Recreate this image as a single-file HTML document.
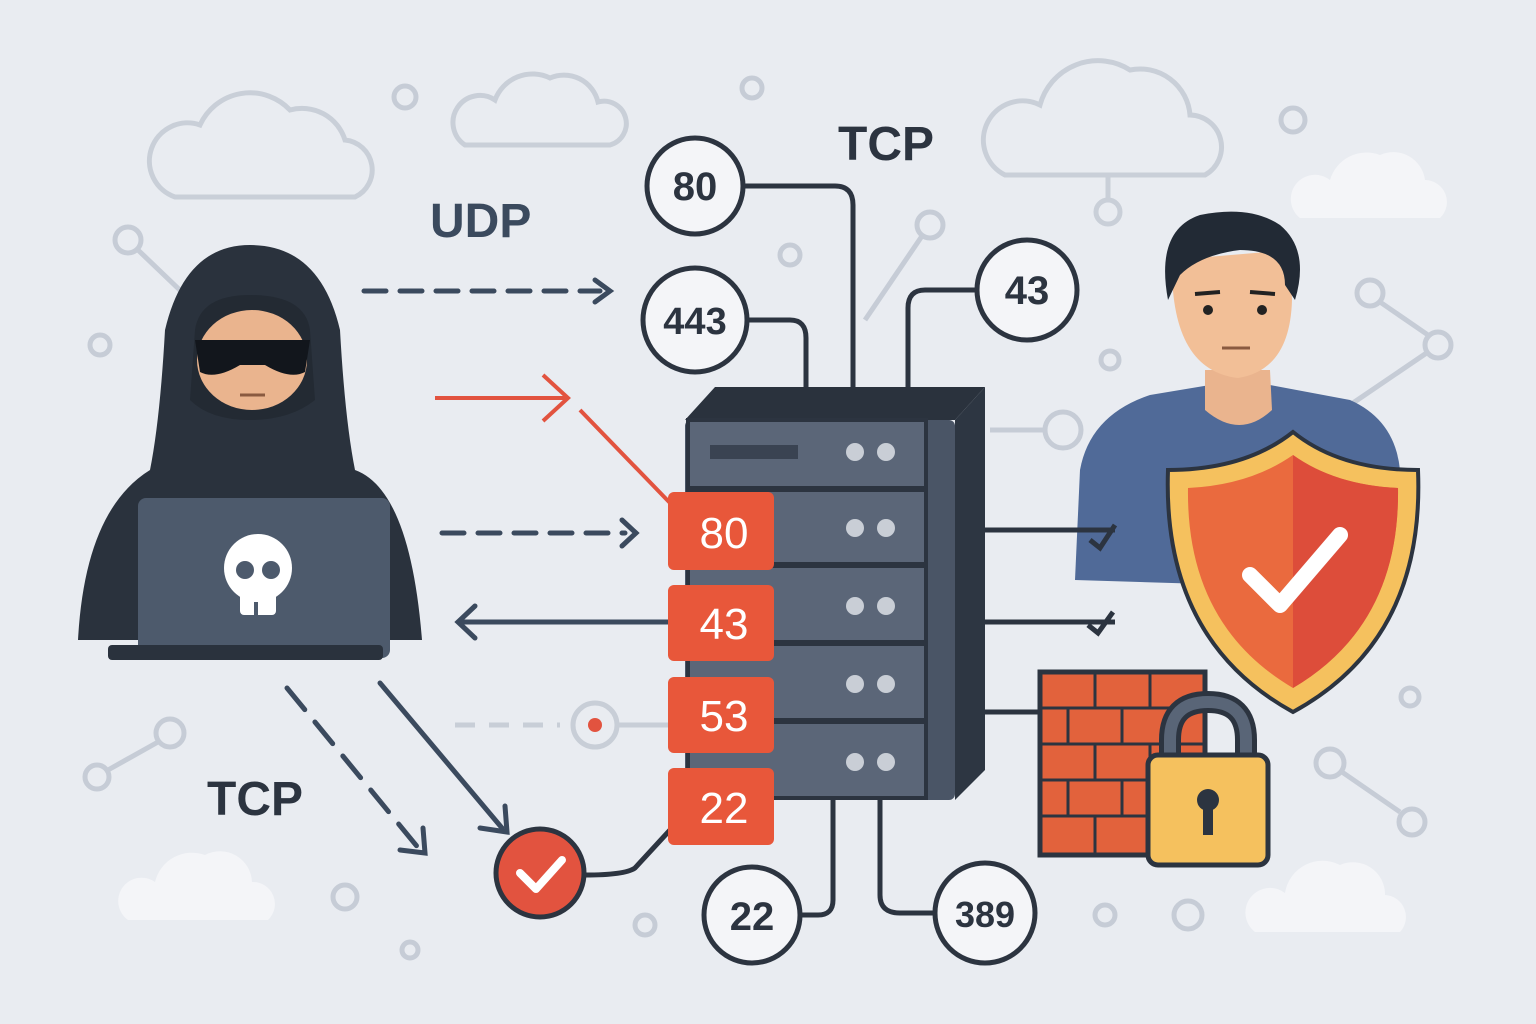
<!DOCTYPE html>
<html><head><meta charset="utf-8"><style>
html,body{margin:0;padding:0;background:#e9ecf1;}
svg{display:block}
text{font-family:"Liberation Sans",sans-serif;font-weight:bold}
</style></head><body>
<svg width="1536" height="1024" viewBox="0 0 1536 1024" xmlns="http://www.w3.org/2000/svg">
<rect width="1536" height="1024" fill="#e9ecf1"/>
<g fill="none" stroke="#c9cfd8" stroke-width="5">
<path d="M175,197 H355 A30,30 0 0 0 345,140 A45,45 0 0 0 290,110 A55,55 0 0 0 200,125 A38,38 0 0 0 175,197 Z"/>
<path d="M465,145 H610 A22,22 0 0 0 598,102 A35,35 0 0 0 550,78 A40,40 0 0 0 495,100 A25,25 0 0 0 465,145 Z"/>
<path d="M1005,175 H1205 A32,32 0 0 0 1190,115 A50,50 0 0 0 1130,70 A60,60 0 0 0 1040,105 A38,38 0 0 0 1005,175 Z"/>
<line x1="1108" y1="175" x2="1108" y2="200"/><circle cx="1108" cy="212" r="12"/>
</g>
<g fill="#f4f5f8">
<path d="M1300,218 H1440 A22,22 0 0 0 1425,180 A32,32 0 0 0 1380,155 A38,38 0 0 0 1330,180 A22,22 0 0 0 1300,218Z"/>
<path d="M128,920 H268 A22,22 0 0 0 252,882 A32,32 0 0 0 205,855 A38,38 0 0 0 155,882 A22,22 0 0 0 128,920Z"/>
<path d="M1255,932 H1400 A22,22 0 0 0 1385,895 A32,32 0 0 0 1340,865 A38,38 0 0 0 1285,893 A22,22 0 0 0 1255,932Z"/>
</g>
<g fill="none" stroke="#c6ccd6" stroke-width="5">
<circle cx="405" cy="97" r="11"/><circle cx="752" cy="88" r="10"/><circle cx="1293" cy="120" r="12"/>
<circle cx="128" cy="240" r="13"/><line x1="138" y1="250" x2="185" y2="295"/>
<circle cx="100" cy="345" r="10"/><circle cx="790" cy="255" r="10"/>
<circle cx="930" cy="225" r="13"/><line x1="922" y1="236" x2="865" y2="320"/>
<circle cx="1370" cy="293" r="13"/><line x1="1380" y1="302" x2="1428" y2="335"/><circle cx="1438" cy="345" r="13"/><line x1="1428" y1="352" x2="1350" y2="405"/>
<circle cx="1110" cy="360" r="9"/><circle cx="1063" cy="430" r="18"/><line x1="990" y1="430" x2="1045" y2="430"/>
<circle cx="170" cy="733" r="14"/><line x1="158" y1="742" x2="108" y2="770"/><circle cx="97" cy="777" r="12"/>
<circle cx="345" cy="897" r="12"/><circle cx="645" cy="925" r="10"/><circle cx="1105" cy="915" r="10"/><circle cx="1188" cy="915" r="14"/>
<circle cx="1330" cy="763" r="14"/><line x1="1342" y1="772" x2="1400" y2="812"/><circle cx="1412" cy="822" r="13"/>
<circle cx="1410" cy="697" r="9"/><circle cx="410" cy="950" r="8"/>
</g>
<text x="430" y="237" font-size="48" fill="#3b4a5e">UDP</text>
<text x="838" y="160" font-size="48" fill="#2c3440">TCP</text>
<text x="207" y="815" font-size="48" fill="#2c3440">TCP</text>
<g stroke="#3b4a5e" stroke-width="5" fill="none" stroke-linecap="round">
<line x1="364" y1="291" x2="600" y2="291" stroke-dasharray="22,14"/><path d="M595,280 L610,291 L595,302" stroke-width="5"/>
<line x1="442" y1="533" x2="625" y2="533" stroke-dasharray="22,14"/><path d="M622,520 L636,533 L622,546"/>
<line x1="460" y1="622" x2="668" y2="622"/><path d="M475,606 L458,622 L475,638"/>
<line x1="287" y1="688" x2="420" y2="850" stroke-dasharray="28,16"/><path d="M400,850 L425,853 L423,828"/>
<line x1="380" y1="683" x2="502" y2="828"/><path d="M480,828 L507,832 L505,806"/>
</g>
<g stroke="#e2533f" stroke-width="4" fill="none">
<line x1="435" y1="398" x2="565" y2="398"/><path d="M543,375 L568,398 L543,421"/>
<line x1="580" y1="410" x2="672" y2="505"/>
</g>
<g stroke="#c8ced7" stroke-width="5" fill="none">
<line x1="455" y1="725" x2="560" y2="725" stroke-dasharray="20,14"/>
<circle cx="595" cy="725" r="22"/><line x1="617" y1="725" x2="670" y2="725"/>
</g>
<circle cx="595" cy="725" r="7" fill="#e2533f"/>
<path d="M78,640 Q85,510 150,470 Q160,420 165,330 Q185,245 250,245 Q320,245 340,330 Q345,420 355,470 Q410,490 422,640 Z" fill="#2a323d"/>
<path d="M195,330 Q200,295 250,295 Q305,295 310,330 L315,400 Q290,420 250,420 Q210,420 190,400 Z" fill="#232a33"/>
<ellipse cx="252" cy="360" rx="55" ry="50" fill="#eab48e"/>
<path d="M195,340 H310 L305,372 Q290,380 265,365 L240,365 Q215,380 200,372 Z" fill="#12161c"/>
<line x1="240" y1="395" x2="265" y2="395" stroke="#8a5a40" stroke-width="3"/>
<rect x="138" y="498" width="252" height="160" rx="8" fill="#4d5a6c"/>
<rect x="108" y="645" width="275" height="15" rx="4" fill="#2a323d"/>
<g fill="#fff"><circle cx="258" cy="568" r="34"/><rect x="240" y="585" width="36" height="30" rx="4"/></g>
<g fill="#4d5a6c"><circle cx="245" cy="570" r="9"/><circle cx="271" cy="570" r="9"/><rect x="254" y="602" width="4" height="14"/></g>
<!-- person -->
<path d="M1075,580 L1080,470 Q1090,415 1150,395 L1210,385 L1270,385 L1350,400 Q1395,420 1400,470 L1400,590 Z" fill="#506a98"/>
<path d="M1205,370 L1270,370 L1272,410 Q1240,440 1205,410 Z" fill="#eab48e"/>
<path d="M1172,260 Q1170,370 1238,378 Q1290,370 1292,300 L1290,250 Z" fill="#f2bf97"/>
<path d="M1168,300 Q1155,230 1200,215 Q1250,205 1280,225 Q1310,250 1295,300 L1285,285 Q1285,250 1240,250 Q1200,255 1180,275 Z" fill="#222a35"/>
<circle cx="1208" cy="310" r="5" fill="#222"/><circle cx="1262" cy="310" r="5" fill="#222"/>
<path d="M1195,294 L1220,292 M1250,292 L1275,294" stroke="#222" stroke-width="4"/>
<path d="M1222,348 H1250" stroke="#8a5a40" stroke-width="3"/>
<g stroke="#2c3440" stroke-width="5" fill="none">
<path d="M743,186 H835 Q853,186 853,205 V388"/>
<path d="M747,320 H790 Q806,320 806,338 V388"/>
<path d="M977,290 H925 Q908,290 908,308 V388"/>
<path d="M985,530 H1115"/><path d="M985,622 H1115"/><path d="M985,712 H1045"/>
<path d="M1090,540 L1100,548 L1115,525"/><path d="M1088,625 L1098,633 L1113,612"/>
<path d="M833,800 V900 Q833,915 818,915 H800"/>
<path d="M880,800 V895 Q880,913 900,913 H935"/>
<path d="M670,830 L635,868 Q625,875 585,875"/>
</g>
<polygon points="685,420 715,387 985,387 955,420" fill="#2a323d"/>
<polygon points="955,420 985,387 985,770 955,800" fill="#2d3642"/>
<rect x="685" y="420" width="270" height="380" fill="#4a5566" rx="6"/>
<g fill="#5b6678" stroke="#2c3440" stroke-width="4">
<rect x="688" y="420" width="238" height="68"/>
<rect x="688" y="490" width="238" height="74"/>
<rect x="688" y="566" width="238" height="76"/>
<rect x="688" y="644" width="238" height="76"/>
<rect x="688" y="722" width="238" height="76"/>
</g>
<rect x="710" y="445" width="88" height="14" fill="#3a4352"/>
<g fill="#c9ced6">
<circle cx="855" cy="452" r="9"/><circle cx="886" cy="452" r="9"/>
<circle cx="855" cy="528" r="9"/><circle cx="886" cy="528" r="9"/>
<circle cx="855" cy="606" r="9"/><circle cx="886" cy="606" r="9"/>
<circle cx="855" cy="684" r="9"/><circle cx="886" cy="684" r="9"/>
<circle cx="855" cy="762" r="9"/><circle cx="886" cy="762" r="9"/>
</g>
<g fill="#e8573a">
<rect x="668" y="492" width="106" height="78" rx="6"/>
<rect x="668" y="585" width="106" height="76" rx="6"/>
<rect x="668" y="677" width="106" height="76" rx="6"/>
<rect x="668" y="768" width="106" height="77" rx="6"/>
</g>
<g font-size="44" fill="#fff" text-anchor="middle">
<text x="724" y="548" style="font-weight:normal">80</text>
<text x="724" y="639" style="font-weight:normal">43</text>
<text x="724" y="731" style="font-weight:normal">53</text>
<text x="724" y="823" style="font-weight:normal">22</text>
</g>
<g fill="#f4f5f8" stroke="#2c3440" stroke-width="5">
<circle cx="695" cy="186" r="48"/><circle cx="695" cy="320" r="52"/>
<circle cx="1027" cy="290" r="50"/><circle cx="752" cy="915" r="48"/><circle cx="985" cy="913" r="50"/>
</g>
<g font-size="40" fill="#2c3440" text-anchor="middle">
<text x="695" y="200">80</text><text x="695" y="334" font-size="38">443</text>
<text x="1027" y="304">43</text><text x="752" y="930">22</text><text x="985" y="927" font-size="36">389</text>
</g>
<circle cx="540" cy="873" r="44" fill="#e2533f" stroke="#2c3440" stroke-width="5"/>
<path d="M520,873 L536,889 L562,860" stroke="#fff" stroke-width="8" fill="none" stroke-linecap="round" stroke-linejoin="round"/>
<path d="M1293,432 Q1340,470 1418,470 Q1425,640 1293,712 Q1162,640 1168,470 Q1245,470 1293,432 Z" fill="#f5c15e" stroke="#2c3440" stroke-width="4"/>
<path d="M1293,455 Q1335,485 1398,488 Q1400,625 1293,688 Q1186,625 1188,488 Q1250,485 1293,455 Z" fill="#ea6a3e"/>
<path d="M1293,455 Q1335,485 1398,488 Q1400,625 1293,688 Z" fill="#dd4d3a"/>
<path d="M1250,575 L1280,605 L1340,535" stroke="#fff" stroke-width="16" fill="none" stroke-linecap="round" stroke-linejoin="round"/>
<rect x="1040" y="672" width="165" height="183" fill="#e2623c" stroke="#2c3440" stroke-width="5"/>
<g stroke="#2c3440" stroke-width="3">
<line x1="1040" y1="708" x2="1205" y2="708"/><line x1="1040" y1="744" x2="1205" y2="744"/><line x1="1040" y1="780" x2="1205" y2="780"/><line x1="1040" y1="816" x2="1205" y2="816"/>
<line x1="1095" y1="672" x2="1095" y2="708"/><line x1="1150" y1="672" x2="1150" y2="708"/>
<line x1="1068" y1="708" x2="1068" y2="744"/><line x1="1122" y1="708" x2="1122" y2="744"/><line x1="1178" y1="708" x2="1178" y2="744"/>
<line x1="1095" y1="744" x2="1095" y2="780"/><line x1="1150" y1="744" x2="1150" y2="780"/>
<line x1="1068" y1="780" x2="1068" y2="816"/><line x1="1122" y1="780" x2="1122" y2="816"/>
<line x1="1095" y1="816" x2="1095" y2="855"/>
</g>
<path d="M1170,760 V740 Q1170,702 1208,702 Q1246,702 1246,740 V760" fill="none" stroke="#2c3440" stroke-width="22"/>
<path d="M1170,760 V740 Q1170,702 1208,702 Q1246,702 1246,740 V760" fill="none" stroke="#596577" stroke-width="12"/>
<rect x="1148" y="755" width="120" height="110" rx="10" fill="#f5c15e" stroke="#2c3440" stroke-width="5"/>
<circle cx="1208" cy="800" r="11" fill="#2c3440"/><rect x="1203" y="805" width="10" height="30" fill="#2c3440"/>
</svg>
</body></html>
